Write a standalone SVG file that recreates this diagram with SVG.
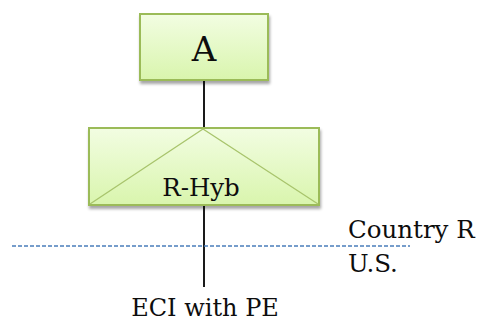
<svg xmlns="http://www.w3.org/2000/svg" width="478" height="322" viewBox="0 0 478 322">
<style>
.box{fill:url(#g);stroke:#9bbb59;stroke-width:2}
.diag{stroke:#a8c46c;stroke-width:1.3;fill:none}
.conn{stroke:#1a1a1a;stroke-width:2;fill:none}
.t{font-family:"DejaVu Serif","Liberation Serif",serif;fill:#0d0d0d;text-anchor:middle}
.lbl{font-family:"DejaVu Serif","Liberation Serif",serif;fill:#0d0d0d;font-size:24.5px}
</style>
<defs>
<linearGradient id="g" x1="0" y1="0" x2="0" y2="1">
<stop offset="0" stop-color="#f2fde2"/>
<stop offset="1" stop-color="#d9f5ad"/>
</linearGradient>
<filter id="sh" x="-10%" y="-10%" width="130%" height="140%">
<feDropShadow dx="1" dy="3" stdDeviation="1.5" flood-color="#000" flood-opacity="0.35"/>
</filter>
</defs>
<g id="connectors">
<line class="conn" x1="204" y1="80" x2="204" y2="128"/>
<line class="conn" x1="204" y1="205" x2="204" y2="287"/>
<line x1="12" y1="246" x2="410" y2="246" stroke="#4a7ebb" stroke-width="1.3" stroke-dasharray="4 2"/>
</g>
<g id="A">
<rect class="box" x="140" y="14" width="128" height="66" filter="url(#sh)"/>
<text class="t" x="204" y="61" font-size="34">A</text>
</g>
<g id="R-Hyb">
<rect class="box" x="89" y="128" width="230" height="77" filter="url(#sh)"/>
<polyline class="diag" points="90,204 203,129 318,204"/>
<text class="t" x="201" y="196" font-size="24.5">R-Hyb</text>
</g>
<g id="labels">
<text class="lbl" x="348" y="238">Country R</text>
<text class="lbl" x="348" y="272">U.S.</text>
<text class="t" x="205" y="316" font-size="24">ECI with PE</text>
</g>
</svg>
